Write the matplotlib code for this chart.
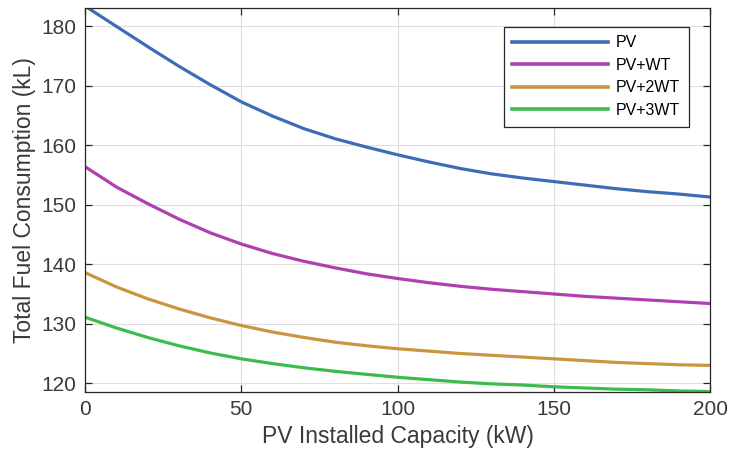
import matplotlib
matplotlib.use("Agg")
import matplotlib.pyplot as plt

# PV installed capacity (kW)
capacity = [0, 10, 20, 30, 40, 50, 60, 70, 80, 90, 100,
            110, 120, 130, 140, 150, 160, 170, 180, 190, 200]

# total fuel consumption (kL)
fuel_pv = [183.4, 180.0, 176.6, 173.3, 170.2, 167.3, 164.9, 162.8, 161.1, 159.7, 158.4,
           157.2, 156.1, 155.2, 154.5, 153.9, 153.3, 152.7, 152.2, 151.8, 151.3]
fuel_pv_wt = [156.4, 153.0, 150.2, 147.6, 145.3, 143.4, 141.8, 140.5, 139.4, 138.4, 137.6,
              136.9, 136.3, 135.8, 135.4, 135.0, 134.6, 134.3, 134.0, 133.7, 133.4]
fuel_pv_2wt = [138.6, 136.2, 134.2, 132.5, 131.0, 129.7, 128.6, 127.7, 126.9, 126.3, 125.8,
               125.4, 125.0, 124.7, 124.4, 124.1, 123.8, 123.5, 123.3, 123.1, 123.0]
fuel_pv_3wt = [131.1, 129.3, 127.7, 126.3, 125.1, 124.1, 123.3, 122.6, 122.0, 121.5, 121.0,
               120.6, 120.2, 119.9, 119.7, 119.4, 119.2, 119.0, 118.9, 118.7, 118.6]

labels = ["PV", "PV+WT", "PV+2WT", "PV+3WT"]
colors = ["#3E6DB5", "#B03FB0", "#C99540", "#3DBB4E"]

plt.rcParams['font.family'] = ['Liberation Sans', 'DejaVu Sans']

fig = plt.figure(figsize=(7.33, 4.63), dpi=100)
ax = fig.add_axes([0.116, 0.153, 0.853, 0.830])

for series, lab, col in zip([fuel_pv, fuel_pv_wt, fuel_pv_2wt, fuel_pv_3wt], labels, colors):
    ax.plot(capacity, series, color=col, lw=2.3, label=lab)

ax.set_xlim(0, 200)
ax.set_ylim(118.5, 183.1)
ax.set_xticks([0, 50, 100, 150, 200])
ax.set_yticks([120, 130, 140, 150, 160, 170, 180])

ax.grid(True, color="#DEDEDE", lw=0.8)
ax.set_axisbelow(True)
for sp in ax.spines.values():
    sp.set_color("#262626")
    sp.set_linewidth(0.9)
ax.tick_params(direction="in", length=5, width=0.9, color="#262626",
               top=True, right=True, labelsize=15, labelcolor="#3a3a3a", pad=6)

ax.set_xlabel("PV Installed Capacity (kW)", fontsize=16.5, color="#3a3a3a", labelpad=4)
ax.set_ylabel("Total Fuel Consumption (kL)", fontsize=16.5, color="#3a3a3a", labelpad=4)

leg = ax.legend(loc="upper right", bbox_to_anchor=(0.9664, 0.9513), borderaxespad=0,
                fontsize=11.5, handlelength=6.0, handletextpad=0.5, labelspacing=0.47,
                borderpad=0.55, fancybox=False, framealpha=1)
leg.get_frame().set_edgecolor("#262626")
leg.get_frame().set_linewidth(0.9)
for line in leg.get_lines():
    line.set_linewidth(2.6)

fig.savefig("out.png", dpi=100)
